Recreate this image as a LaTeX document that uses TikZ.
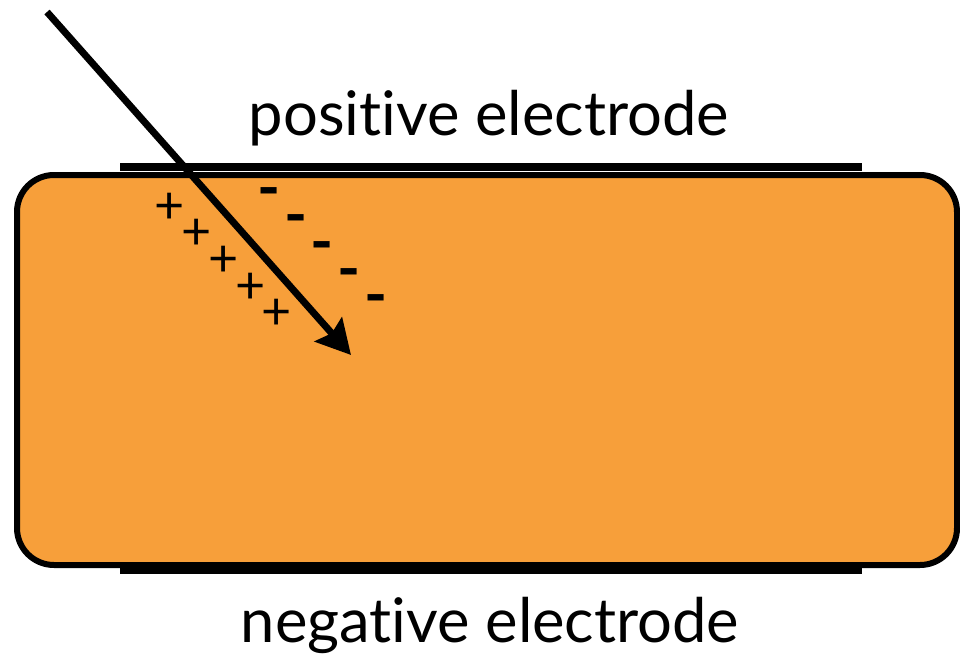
\documentclass[tikz,border=0pt]{standalone}
\usepackage{fontspec}
\setmainfont{Lato}[Ligatures={NoCommon}]
\usetikzlibrary{arrows.meta, positioning}
\definecolor{crystal}{RGB}{247,159,58}
\tikzset{
  slab/.style={draw=black, fill=crystal, line width=6pt, rounded corners=37pt},
  electrode/.style={line width=8pt, black},
  electext/.style={font=\fontsize{61.5}{72}\selectfont, inner sep=0pt},
  ray/.style={-{Stealth[length=34pt,width=36pt,inset=5pt]}, line width=7pt, black},
  pcharge/.style={font=\fontsize{52}{60}\selectfont, inner sep=0pt},
  ncharge/.style={font=\bfseries\fontsize{62}{70}\selectfont, inner sep=0pt, yshift=-9pt},
}

\begin{document}
\begin{tikzpicture}[x=1pt,y=-1pt]
  \useasboundingbox (0,0) rectangle (960,658);
  % crystal between the two electrodes
  \draw[slab] (17,175) rectangle (957,565);
  \coordinate (pl) at (120,166.5);
  \coordinate (pr) at (862,166.5);
  \coordinate (nl) at (120,570);
  \coordinate (nr) at (862,570);
  \draw[electrode] (pl) -- (pr);
  \draw[electrode] (nl) -- (nr);
  \node[electext] (postext) at (489,118) {positive electrode};
  \node[electext] (negtext) at (490,625) {negative electrode};
  % charges along the track
  \foreach \i in {0,...,4} {
    \node[pcharge] (p\i) at ({170+26.7*\i},{208+26.7*\i}) {+};
    \node[ncharge] (m\i) at ({269+26.7*\i},{190+26.7*\i}) {-};
  }
  \coordinate (in) at (47,12);
  \coordinate (stop) at (351,355);
  \draw[ray] (in) -- (stop);
\end{tikzpicture}
\end{document}
